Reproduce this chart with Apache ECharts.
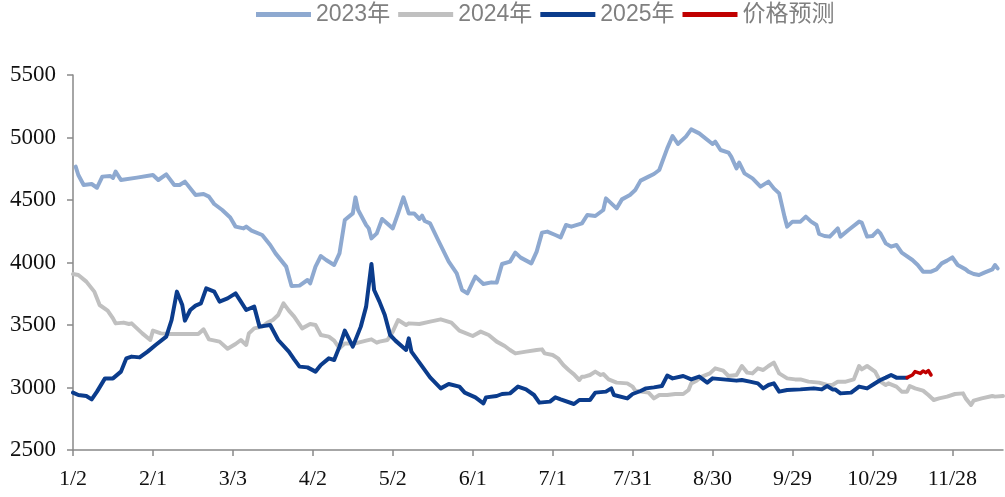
<!DOCTYPE html>
<html>
<head>
<meta charset="utf-8">
<script src="https://cdn.jsdelivr.net/npm/echarts@6/dist/echarts.min.js"></script>
<style>
  html, body { margin: 0; padding: 0; background: #fff; }
  #chart { width: 1005px; height: 497px; }
</style>
</head>
<body>
<div id="chart"></div>
<script>
// x positions are day offsets counted from 1/2; ticks every 30 days
const tickLabels = ['1/2', '2/1', '3/3', '4/2', '5/2', '6/1', '7/1', '7/31', '8/30', '9/29', '10/29', '11/28'];
const tickDays = tickLabels.map((_, i) => i * 30);

const days2023 = [1, 2, 4, 7, 9, 11, 14, 15, 16, 18, 24, 30, 32, 35, 38, 40, 42, 46, 49, 51, 53, 56, 59, 61, 64, 65, 67, 71, 74, 76, 80, 82, 85, 88, 89, 91, 93, 95, 98, 100, 102, 105, 106, 107, 110, 111, 112, 114, 116, 120, 122, 124, 126, 128, 130, 131, 132, 134, 137, 141, 144, 146, 148, 151, 154, 157, 159, 161, 164, 166, 168, 172, 174, 176, 178, 181, 183, 185, 187, 191, 193, 196, 199, 200, 204, 206, 209, 211, 213, 216, 218, 220, 223, 225, 227, 230, 232, 235, 240, 241, 243, 246, 247, 249, 250, 252, 255, 258, 261, 263, 265, 267, 268, 270, 273, 275, 277, 279, 280, 282, 284, 287, 288, 291, 295, 296, 298, 300, 302, 303, 305, 307, 309, 311, 315, 317, 319, 322, 324, 326, 328, 330, 332, 335, 336, 338, 340, 342, 345, 346, 347];
const vals2023 = [4767, 4700, 4620, 4628, 4598, 4687, 4692, 4676, 4727, 4660, 4679, 4700, 4660, 4705, 4620, 4620, 4647, 4540, 4548, 4527, 4468, 4420, 4360, 4287, 4273, 4287, 4255, 4220, 4140, 4073, 3967, 3812, 3815, 3860, 3833, 3967, 4052, 4020, 3980, 4073, 4340, 4393, 4521, 4420, 4300, 4273, 4193, 4233, 4348, 4273, 4393, 4521, 4393, 4393, 4348, 4375, 4332, 4313, 4180, 4007, 3913, 3780, 3753, 3887, 3828, 3841, 3839, 3988, 4007, 4079, 4039, 3993, 4087, 4239, 4247, 4220, 4201, 4300, 4287, 4313, 4380, 4372, 4420, 4513, 4433, 4505, 4540, 4580, 4655, 4687, 4708, 4740, 4913, 5012, 4948, 5007, 5065, 5033, 4948, 4967, 4900, 4879, 4847, 4753, 4799, 4713, 4673, 4607, 4647, 4593, 4553, 4367, 4287, 4327, 4327, 4367, 4327, 4300, 4228, 4212, 4207, 4273, 4207, 4260, 4327, 4319, 4207, 4212, 4255, 4233, 4153, 4127, 4140, 4079, 4020, 3980, 3927, 3927, 3945, 3993, 4015, 4041, 3980, 3945, 3927, 3908, 3900, 3919, 3945, 3980, 3953];

const days2024 = [0, 2, 5, 8, 10, 13, 15, 16, 19, 21, 22, 24, 26, 29, 30, 33, 36, 43, 47, 49, 51, 55, 58, 61, 63, 65, 66, 68, 71, 73, 75, 77, 79, 81, 83, 86, 89, 91, 93, 96, 98, 100, 102, 106, 110, 112, 114, 115, 118, 120, 122, 125, 126, 130, 134, 138, 142, 145, 150, 153, 156, 159, 162, 164, 166, 170, 174, 176, 177, 180, 182, 184, 186, 188, 190, 191, 192, 194, 196, 198, 199, 201, 204, 208, 210, 211, 213, 216, 218, 220, 223, 226, 229, 231, 232, 234, 236, 239, 241, 244, 246, 249, 251, 253, 255, 257, 259, 261, 263, 265, 268, 271, 273, 276, 280, 283, 285, 287, 290, 293, 295, 296, 298, 301, 303, 305, 306, 309, 311, 313, 314, 316, 319, 321, 323, 325, 328, 331, 334, 335, 337, 338, 341, 345, 346, 349];
const vals2024 = [3908, 3900, 3847, 3767, 3660, 3615, 3553, 3513, 3519, 3508, 3513, 3473, 3433, 3380, 3455, 3433, 3428, 3428, 3428, 3465, 3385, 3367, 3310, 3348, 3380, 3340, 3433, 3473, 3487, 3519, 3540, 3580, 3673, 3615, 3567, 3473, 3508, 3500, 3420, 3407, 3375, 3313, 3353, 3353, 3375, 3385, 3359, 3367, 3380, 3447, 3540, 3500, 3513, 3508, 3527, 3545, 3519, 3455, 3412, 3447, 3420, 3367, 3332, 3300, 3273, 3287, 3300, 3305, 3273, 3260, 3233, 3180, 3140, 3105, 3060, 3087, 3087, 3100, 3127, 3100, 3108, 3065, 3039, 3033, 3007, 2975, 2967, 2959, 2913, 2940, 2940, 2948, 2948, 2980, 3033, 3055, 3087, 3113, 3153, 3135, 3092, 3100, 3172, 3119, 3113, 3153, 3140, 3172, 3199, 3113, 3073, 3065, 3065, 3047, 3039, 3020, 3020, 3047, 3047, 3065, 3172, 3145, 3172, 3127, 3047, 3020, 3033, 3007, 2967, 2967, 3012, 2993, 2975, 2940, 2900, 2913, 2927, 2948, 2953, 2913, 2860, 2895, 2913, 2932, 2927, 2932];

const days2025 = [0, 2, 5, 7, 9, 12, 15, 18, 20, 22, 25, 28, 31, 35, 37, 39, 41, 42, 44, 46, 48, 50, 53, 55, 58, 61, 63, 65, 68, 70, 74, 77, 81, 83, 85, 88, 91, 93, 96, 98, 100, 102, 105, 108, 110, 112, 113, 115, 117, 119, 121, 125, 126, 127, 130, 134, 138, 141, 145, 147, 151, 154, 155, 159, 161, 164, 167, 170, 173, 175, 179, 181, 183, 188, 190, 194, 196, 200, 202, 203, 208, 210, 213, 215, 218, 221, 223, 225, 229, 232, 235, 238, 240, 244, 249, 251, 254, 257, 259, 261, 263, 265, 268, 273, 278, 281, 283, 285, 286, 288, 292, 295, 298, 300, 303, 305, 307, 309, 313];
const vals2025 = [2959, 2940, 2932, 2905, 2967, 3073, 3073, 3127, 3233, 3247, 3241, 3287, 3340, 3407, 3540, 3767, 3660, 3535, 3620, 3655, 3673, 3793, 3767, 3687, 3713, 3753, 3687, 3620, 3647, 3487, 3500, 3380, 3287, 3225, 3167, 3161, 3127, 3180, 3233, 3220, 3327, 3455, 3327, 3487, 3647, 3988, 3780, 3687, 3580, 3420, 3375, 3300, 3393, 3287, 3199, 3081, 2993, 3028, 3007, 2959, 2921, 2873, 2921, 2932, 2948, 2953, 3007, 2985, 2940, 2879, 2887, 2921, 2905, 2868, 2900, 2900, 2959, 2967, 2993, 2940, 2913, 2948, 2972, 2993, 3001, 3012, 3095, 3073, 3092, 3065, 3087, 3039, 3073, 3065, 3055, 3060, 3047, 3033, 2993, 3020, 3033, 2967, 2980, 2985, 2993, 2985, 3012, 2985, 2985, 2953, 2959, 3007, 2993, 3020, 3060, 3079, 3100, 3079, 3079];

const daysForecast = [313, 315, 316, 318, 319, 320, 321, 322];
const valsForecast = [3079, 3100, 3127, 3113, 3132, 3119, 3135, 3100];

const pairs = (days, vals) => days.map((d, i) => [d, vals[i]]);

const axisGray = '#898989';
const serif = 'Liberation Serif, Times New Roman, serif';

const chart = echarts.init(document.getElementById('chart'), null, { renderer: 'canvas' });

const lineSeries = (name, data, color, width, z) => ({
  name, type: 'line', data, symbol: 'none', smooth: false, z,
  lineStyle: { color, width, join: 'round', cap: 'round' },
  itemStyle: { color },
  emphasis: { disabled: true }
});

chart.setOption({
  animation: false,
  backgroundColor: '#fff',
  grid: { left: 73, right: 2, top: 75, bottom: 47, containLabel: false },
  legend: {
    left: 256, top: 3, padding: 0,
    itemWidth: 55, itemHeight: 5, itemGap: 8,
    icon: 'rect',
    textStyle: { fontFamily: 'Liberation Sans, Noto Sans CJK SC', fontSize: 23, color: '#808080' },
    data: ['2023年', '2024年', '2025年', '价格预测']
  },
  xAxis: {
    type: 'value', min: 0, max: 349, interval: 30,
    splitLine: { show: false },
    axisLine: { lineStyle: { color: axisGray, width: 1.5 } },
    axisTick: { show: true, length: 6, customValues: tickDays, lineStyle: { color: axisGray, width: 1.5 } },
    axisLabel: {
      margin: 18, customValues: tickDays,
      fontFamily: serif, fontSize: 22, color: '#111',
      formatter: v => tickLabels[Math.round(v / 30)] || ''
    }
  },
  yAxis: {
    type: 'value', min: 2500, max: 5500, interval: 500,
    splitLine: { show: false },
    axisLine: { show: true, lineStyle: { color: axisGray, width: 1.5 } },
    axisTick: { show: true, length: 6, lineStyle: { color: axisGray, width: 1.5 } },
    axisLabel: { margin: 17, fontFamily: serif, fontSize: 23, color: '#111', formatter: v => String(v) }
  },
  series: [
    lineSeries('2023年', pairs(days2023, vals2023), '#8EA9D0', 4, 2),
    lineSeries('2024年', pairs(days2024, vals2024), '#C0C0C0', 4, 3),
    lineSeries('2025年', pairs(days2025, vals2025), '#0B3C8C', 4, 4),
    lineSeries('价格预测', pairs(daysForecast, valsForecast), '#C00000', 3.5, 5)
  ]
});
</script>
</body>
</html>
